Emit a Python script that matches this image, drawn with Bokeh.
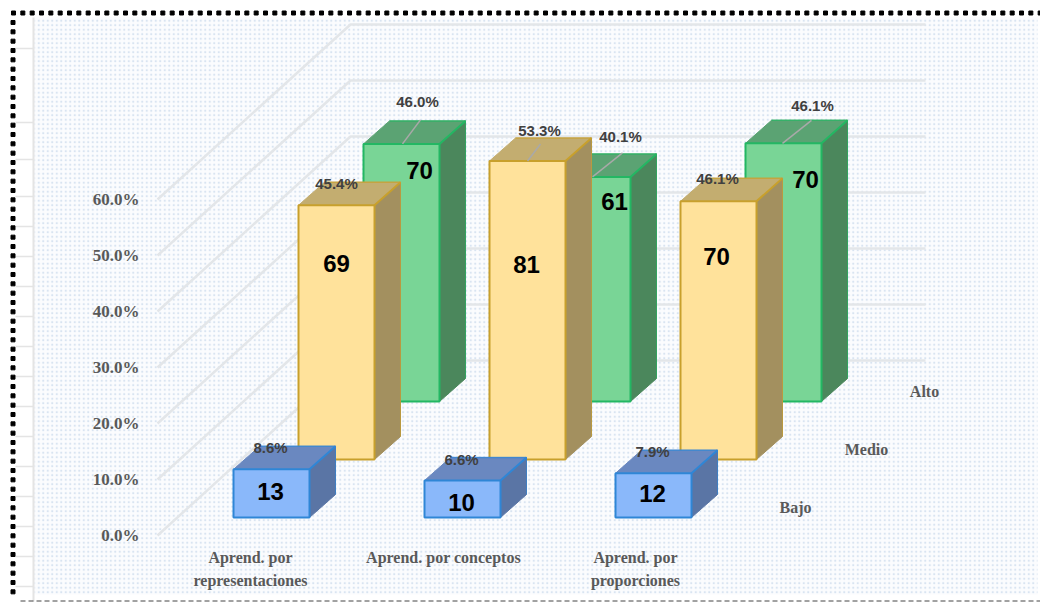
import numpy as np
from bokeh.core.properties import value
from bokeh.embed import file_html
from bokeh.models import Range1d
from bokeh.plotting import figure
from bokeh.resources import INLINE

# ---- data
categories = [["Aprend. por", "representaciones"], ["Aprend. por conceptos"], ["Aprend. por", "proporciones"]]
series_names = ["Bajo", "Medio", "Alto"]
bajo_pct = [8.6, 6.6, 7.9]
medio_pct = [45.4, 53.3, 46.1]
alto_pct = [46.0, 40.1, 46.1]
bajo_n = [13, 10, 12]
medio_n = [69, 81, 70]
alto_n = [70, 61, 70]
axis_ticks = [0, 10, 20, 30, 40, 50, 60]
ruler_ticks = [48, 122, 159, 196, 226, 256, 286, 316, 346, 376, 406, 436, 466, 496, 526, 556, 586]

pct_by_series = [bajo_pct, medio_pct, alto_pct]
n_by_series = [bajo_n, medio_n, alto_n]

# ---- style per series: front, side, top, edge
STYLES = [
    ("#8ab8fa", "#5a75a5", "#6a88c0", "#2f86d6"),
    ("#ffe29b", "#a3905f", "#c3ad70", "#c8a02c"),
    ("#79d596", "#4b875c", "#5ba373", "#23b763"),
]

# ---- oblique projection (layout, in page pixels)
PX_PER_PCT = 5.6
ORIGIN_X, ORIGIN_Y = 233.0, 517.0
CAT_STEP = 191.0
BAR_W = 76.0
SERIES_DX, SERIES_DY = 65.0, -58.0
DEPTH_DX, DEPTH_DY = 26.0, -23.0
WALL_LEFT_X, WALL_RIGHT_X = 350.0, 925.0
FLOOR_FRONT_X, FLOOR_FRONT_Y, FLOOR_BACK_Y = 157.0, 535.0, 360.0


def project(cat, series, pct):
    return (ORIGIN_X + cat * CAT_STEP + series * SERIES_DX,
            ORIGIN_Y + series * SERIES_DY - pct * PX_PER_PCT)


W, H = 1040, 602
p = figure(width=W, height=H, x_range=Range1d(0, W), y_range=Range1d(H, 0),
           output_backend="svg", toolbar_location=None, min_border=0,
           margin=(0, 0, 0, 0))
p.axis.visible = False
p.grid.visible = False
p.outline_line_color = None
p.background_fill_color = "#ffffff"
p.border_fill_color = "#ffffff"

# backdrop
p.quad(left=[34], right=[1037], top=[17], bottom=[594], fill_color="#fbfcfe", line_color=None,
       hatch_pattern="dot", hatch_color="#d5e1f0", hatch_scale=4.5, hatch_weight=1.0, hatch_alpha=0.9)

# left ruler
p.segment(x0=[33], x1=[33], y0=[17], y1=[601], line_color="#e4e4e4", line_width=2)
p.segment(x0=[15] * len(ruler_ticks), x1=[33] * len(ruler_ticks), y0=ruler_ticks, y1=ruler_ticks,
          line_color="#e4e4e4", line_width=1.5)

# page frame
top_x = np.arange(13, W, 28 / 3)
left_y = np.arange(22, 600, 28 / 3)
p.scatter(top_x, [12.5] * len(top_x), marker="square", size=4, color="#000000")
p.scatter([12.5] * len(left_y), left_y, marker="square", size=4, color="#000000")
p.line([20, W], [600.5, 600.5], line_color="#444444", line_width=1, line_dash="5 3")

# receding gridlines
grid_xs, grid_ys = [], []
for t in axis_ticks:
    front_y = FLOOR_FRONT_Y - t * PX_PER_PCT
    back_y = FLOOR_BACK_Y - t * PX_PER_PCT
    grid_xs.append([FLOOR_FRONT_X, WALL_LEFT_X, WALL_RIGHT_X])
    grid_ys.append([front_y, back_y, back_y])
p.multi_line(grid_xs, grid_ys, line_color="#e3e6e9", line_width=2.5)

# bars, back series first
for s in (2, 1, 0):
    front, side, top, edge = STYLES[s]
    fx, fy, sx, sy, tx, ty = [], [], [], [], [], []
    for c, pct in enumerate(pct_by_series[s]):
        x0, yb = project(c, s, 0)
        _, yt = project(c, s, pct)
        x1 = x0 + BAR_W
        fx.append([x0, x1, x1, x0])
        fy.append([yb, yb, yt, yt])
        sx.append([x1, x1 + DEPTH_DX, x1 + DEPTH_DX, x1])
        sy.append([yb, yb + DEPTH_DY, yt + DEPTH_DY, yt])
        tx.append([x0, x1, x1 + DEPTH_DX, x0 + DEPTH_DX])
        ty.append([yt, yt, yt + DEPTH_DY, yt + DEPTH_DY])
    p.patches(sx, sy, fill_color=side, line_color=side, line_width=1)
    p.patches(tx, ty, fill_color=top, line_color=top, line_width=1)
    p.patches(fx, fy, fill_color=front, line_color=edge, line_width=2)
    # the top front-to-back edge and the rear edges
    p.segment([q[1] for q in tx], [q[1] for q in ty], [q[2] for q in tx], [q[2] for q in ty],
              line_color=edge, line_width=2)
    p.segment([q[1] for q in sx], [q[2] for q in sy], [q[1] for q in sx], [q[1] for q in sy],
              line_color=edge, line_width=1, line_alpha=0.6)
    p.segment([q[2] for q in tx], [q[2] for q in ty], [q[3] for q in tx], [q[3] for q in ty],
              line_color=edge, line_width=1.5, line_alpha=0.7)

# leader lines: (series, cat, start dx on the front top edge, end dx, end dy)
LEADERS = [(2, 0, 39, 57, -24), (1, 1, 38, 51, -17), (2, 1, 38, 68, -24), (2, 2, 37, 66, -23)]
lx0, ly0, lx1, ly1 = [], [], [], []
for s, c, d0, d1, dy in LEADERS:
    x, y = project(c, s, pct_by_series[s][c])
    lx0.append(x + d0); ly0.append(y)
    lx1.append(x + d1); ly1.append(y + dy)
p.segment(lx0, ly0, lx1, ly1, line_color="#a9a9a9", line_width=1.5)

# percentage labels and counts: offsets from the front top-left corner of each bar
PCT_OFFSET = {
    0: [(37, -22), (37, -21), (37, -22)],
    1: [(38, -22), (50, -31), (37, -23)],
    2: [(54, -42), (66, -40), (67, -38)],
}
N_OFFSET = {
    0: [(37, 22), (37, 22), (37, 20)],
    1: [(38, 58), (37, 103), (36, 55)],
    2: [(56, 27), (60, 25), (60, 36)],
}
SANS = value("Liberation Sans")
for s in range(3):
    px, py, pt, nx, ny, nt = [], [], [], [], [], []
    for c, pct in enumerate(pct_by_series[s]):
        x, y = project(c, s, pct)
        dx, dy = PCT_OFFSET[s][c]
        px.append(x + dx); py.append(y + dy); pt.append(f"{pct:.1f}%")
        dx, dy = N_OFFSET[s][c]
        nx.append(x + dx); ny.append(y + dy); nt.append(str(n_by_series[s][c]))
    p.text(px, py, text=pt, text_font=SANS, text_font_size="15px",
           text_font_style="bold", text_color="#404040", text_align="center", text_baseline="middle")
    p.text(nx, ny, text=nt, text_font=SANS, text_font_size="24px",
           text_font_style="bold", text_color="#000000", text_align="center", text_baseline="middle")

SERIF = value("Liberation Serif")
# value axis labels
p.text([139] * len(axis_ticks), [FLOOR_FRONT_Y - t * PX_PER_PCT for t in axis_ticks],
       text=[f"{t:.1f}%" for t in axis_ticks], text_font=SERIF, text_font_size="17px",
       text_font_style="bold", text_color="#595959", text_align="right", text_baseline="middle")

# category labels
CAT_CENTER = [250, 443, 635]
LINE_1_Y, LINE_STEP = 557, 23
cx, cy, ct = [], [], []
for c, lines in enumerate(categories):
    for j, t in enumerate(lines):
        cx.append(CAT_CENTER[c]); cy.append(LINE_1_Y + j * LINE_STEP); ct.append(t)
p.text(cx, cy, text=ct, text_font=SERIF, text_font_size="16px", text_font_style="bold",
       text_color="#595959", text_align="center", text_baseline="middle")

# series labels
p.text([795, 866, 924], [507, 449, 391], text=series_names, text_font=SERIF, text_font_size="16px",
       text_font_style="bold", text_color="#595959", text_align="center", text_baseline="middle")

open("out.html", "w").write(file_html(p, INLINE))
